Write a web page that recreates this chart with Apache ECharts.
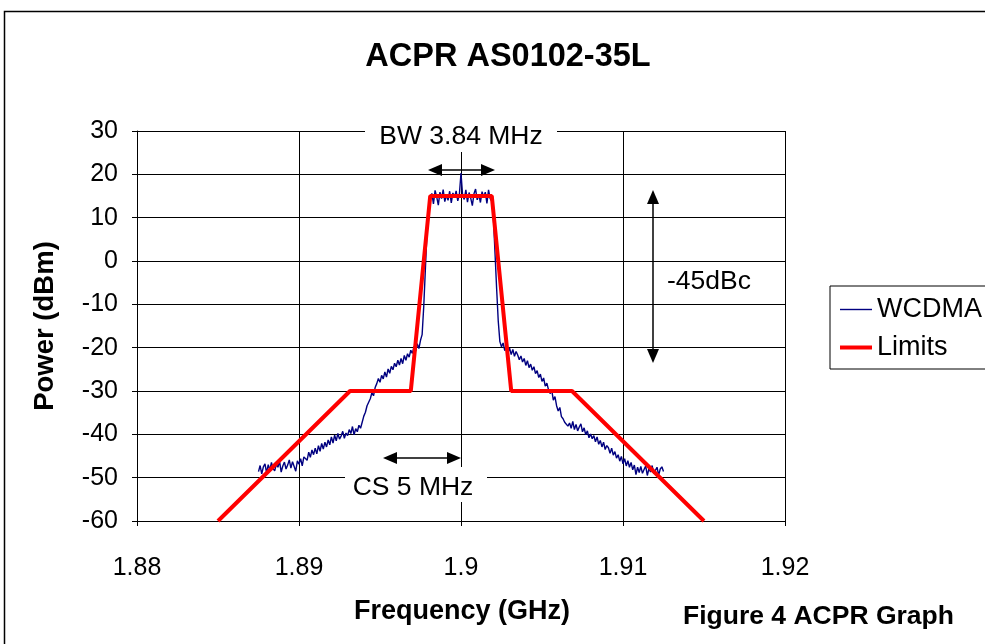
<!DOCTYPE html>
<html><head><meta charset="utf-8">
<script src="https://cdn.jsdelivr.net/npm/echarts@6/dist/echarts.min.js"></script>
<style>html,body{margin:0;padding:0;background:#fff}#c{width:985px;height:644px}</style>
</head><body><div id="c"></div>
<script>
// ---- data ----
const freqGHz = [
1.8875,1.8876,1.8877,1.8878,1.8879,1.8880,1.8881,1.8882,1.8883,1.8884,
1.8885,1.8886,1.8887,1.8888,1.8889,1.8890,1.8891,1.8892,1.8893,1.8894,
1.8895,1.8896,1.8897,1.8898,1.8899,1.8900,1.8901,1.8902,1.8903,1.8904,
1.8905,1.8906,1.8907,1.8908,1.8909,1.8910,1.8911,1.8912,1.8913,1.8914,
1.8915,1.8916,1.8917,1.8918,1.8919,1.8920,1.8921,1.8922,1.8923,1.8924,
1.8925,1.8926,1.8927,1.8928,1.8929,1.8930,1.8931,1.8932,1.8933,1.8934,
1.8935,1.8936,1.8937,1.8938,1.8939,1.8940,1.8941,1.8942,1.8943,1.8944,
1.8945,1.8946,1.8947,1.8948,1.8949,1.8950,1.8951,1.8952,1.8953,1.8954,
1.8955,1.8956,1.8957,1.8958,1.8959,1.8960,1.8961,1.8962,1.8963,1.8964,
1.8965,1.8966,1.8967,1.8968,1.8969,1.8970,1.8971,1.8972,1.8973,1.8974,
1.8975,1.8976,1.8977,1.8978,1.8979,1.8980,1.8981,1.8982,1.8983,1.8984,
1.8985,1.8986,1.8987,1.8988,1.8989,1.8990,1.8991,1.8992,1.8993,1.8994,
1.8995,1.8996,1.8997,1.8998,1.8999,1.9000,1.9001,1.9002,1.9003,1.9004,
1.9005,1.9006,1.9007,1.9008,1.9009,1.9010,1.9011,1.9012,1.9013,1.9014,
1.9015,1.9016,1.9017,1.9018,1.9019,1.9020,1.9021,1.9022,1.9023,1.9024,
1.9025,1.9026,1.9027,1.9028,1.9029,1.9030,1.9031,1.9032,1.9033,1.9034,
1.9035,1.9036,1.9037,1.9038,1.9039,1.9040,1.9041,1.9042,1.9043,1.9044,
1.9045,1.9046,1.9047,1.9048,1.9049,1.9050,1.9051,1.9052,1.9053,1.9054,
1.9055,1.9056,1.9057,1.9058,1.9059,1.9060,1.9061,1.9062,1.9063,1.9064,
1.9065,1.9066,1.9067,1.9068,1.9069,1.9070,1.9071,1.9072,1.9073,1.9074,
1.9075,1.9076,1.9077,1.9078,1.9079,1.9080,1.9081,1.9082,1.9083,1.9084,
1.9085,1.9086,1.9087,1.9088,1.9089,1.9090,1.9091,1.9092,1.9093,1.9094,
1.9095,1.9096,1.9097,1.9098,1.9099,1.9100,1.9101,1.9102,1.9103,1.9104,
1.9105,1.9106,1.9107,1.9108,1.9109,1.9110,1.9111,1.9112,1.9113,1.9114,
1.9115,1.9116,1.9117,1.9118,1.9119,1.9120,1.9121,1.9122,1.9123,1.9124,
1.9125
];
const wcdmaDbm = [
-48.6,-47.2,-49.1,-47.5,-46.8,-48.9,-47.0,-48.2,-46.5,-47.9,
-48.4,-46.9,-47.6,-46.2,-48.7,-47.3,-46.4,-48.0,-47.1,-45.9,
-47.8,-46.3,-47.4,-48.5,-46.1,-46.9,-45.6,-47.3,-45.2,-44.8,
-46.0,-44.1,-45.3,-43.6,-44.7,-43.2,-44.5,-42.6,-43.9,-42.1,
-43.4,-41.8,-42.9,-41.3,-42.4,-40.6,-42.0,-40.2,-41.5,-39.8,
-41.1,-40.4,-39.3,-40.9,-39.7,-40.3,-38.9,-39.8,-38.2,-40.1,
-38.7,-39.4,-37.9,-38.6,-37.2,-35.8,-34.9,-33.4,-32.6,-31.8,
-30.4,-31.1,-29.2,-28.3,-27.1,-28.0,-26.4,-27.2,-25.6,-26.8,
-24.9,-25.9,-24.3,-25.1,-23.6,-24.4,-22.9,-24.0,-22.5,-23.7,
-21.8,-22.9,-21.4,-22.2,-20.6,-21.3,-19.7,-20.8,-19.1,-20.2,
-18.3,-17.0,-10.5,-2.0,6.5,12.2,14.1,15.6,13.2,16.3,
14.8,12.9,15.9,14.4,16.5,13.7,15.2,14.0,16.1,13.4,
15.7,14.6,16.2,13.9,15.4,20.3,15.1,14.2,16.4,13.6,
15.8,14.5,12.8,15.5,16.6,14.1,15.3,13.5,16.0,14.7,
15.9,13.3,16.4,14.4,13.8,10.1,1.8,-6.4,-13.9,-18.6,
-19.8,-18.9,-20.7,-19.4,-21.2,-20.1,-21.6,-20.4,-22.0,-20.9,
-21.7,-22.8,-21.9,-23.3,-22.5,-24.1,-23.0,-24.6,-23.8,-25.2,
-24.4,-26.0,-25.3,-26.9,-26.1,-27.8,-27.0,-28.9,-28.2,-29.7,
-30.6,-29.8,-32.1,-31.3,-33.4,-34.6,-33.8,-35.9,-36.4,-37.2,
-36.8,-38.1,-37.4,-38.6,-37.0,-38.9,-37.7,-39.2,-38.3,-37.6,
-39.4,-38.5,-40.1,-39.2,-40.8,-39.9,-41.0,-40.3,-41.7,-40.6,
-42.3,-41.4,-42.9,-41.8,-43.5,-42.6,-43.1,-44.4,-43.2,-44.8,
-44.0,-45.5,-44.7,-46.2,-45.1,-46.8,-45.6,-47.3,-46.1,-47.6,
-46.5,-48.2,-47.1,-49.3,-47.6,-48.8,-47.4,-49.0,-48.1,-47.3,
-49.5,-47.9,-48.7,-47.2,-49.1,-48.3,-47.6,-49.4,-48.0,-47.5,
-48.6
];
const limitFreq = [1.885, 1.89315, 1.8969, 1.8981, 1.9019, 1.9031, 1.90685, 1.915];
const limitDbm  = [-60, -30, -30, 15, 15, -30, -30, -60];
const seriesNames = ['WCDMA', 'Limits'];
const xMin = 1.88, xMax = 1.92, xStep = 0.01;
const yMin = -60, yMax = 30, yStep = 10;
const titleText = 'ACPR AS0102-35L';
const xName = 'Frequency (GHz)';
const yName = 'Power (dBm)';
const captionText = 'Figure 4 ACPR Graph';
const noteBW = 'BW 3.84 MHz';
const noteCS = 'CS 5 MHz';
const noteDbc = '-45dBc';

// ---- chart ----
const FONT = '"Liberation Sans", Arial, sans-serif';
const chart = echarts.init(document.getElementById('c'), null, {renderer: 'canvas'});

function arrow(x1, y1, x2, y2, head, half) {
  const dx = x2 - x1, dy = y2 - y1, len = Math.sqrt(dx*dx + dy*dy);
  const ux = dx / len, uy = dy / len, px = -uy, py = ux;
  const tri = (tx, ty, dirx, diry) => [
    [tx, ty],
    [tx - dirx*head + px*half, ty - diry*head + py*half],
    [tx - dirx*head - px*half, ty - diry*head - py*half]
  ];
  return [
    {type: 'line', z: 100, silent: true,
     shape: {x1: x1 + ux*head*0.8, y1: y1 + uy*head*0.8, x2: x2 - ux*head*0.8, y2: y2 - uy*head*0.8},
     style: {stroke: '#000', lineWidth: 1.5}},
    {type: 'polygon', z: 100, silent: true, shape: {points: tri(x2, y2, ux, uy)}, style: {fill: '#000'}},
    {type: 'polygon', z: 100, silent: true, shape: {points: tri(x1, y1, -ux, -uy)}, style: {fill: '#000'}}
  ];
}

function txt(text, x, y, size, bold, align, extra) {
  return Object.assign({
    type: 'text', z: 101, silent: true, x: x, y: y,
    style: {text: text, fill: '#000', font: (bold ? 'bold ' : '') + size + 'px ' + FONT,
            align: align || 'center', verticalAlign: 'middle'}
  }, extra || {});
}

const option = {
  animation: false,
  backgroundColor: '#fff',
  grid: {left: 137, right: 200, top: 131, bottom: 123, containLabel: false},
  xAxis: {
    type: 'value', min: xMin, max: xMax, interval: xStep,
    axisLine: {show: true, onZero: false, lineStyle: {color: '#000', width: 1}},
    axisTick: {show: true, length: 5, lineStyle: {color: '#000'}},
    axisLabel: {color: '#000', fontSize: 25, fontFamily: FONT, margin: 35,
                formatter: v => String(parseFloat(v.toFixed(2)))},
    splitLine: {show: true, lineStyle: {color: '#000', width: 1}}
  },
  yAxis: {
    type: 'value', min: yMin, max: yMax, interval: yStep,
    axisLine: {show: true, onZero: false, lineStyle: {color: '#000', width: 1}},
    axisTick: {show: true, length: 5, lineStyle: {color: '#000'}},
    axisLabel: {color: '#000', fontSize: 25, fontFamily: FONT, margin: 19},
    splitLine: {show: true, lineStyle: {color: '#000', width: 1}}
  },
  legend: {
    orient: 'vertical', left: 830, top: 286,
    padding: [10, 40, 8, 10], itemWidth: 32, itemHeight: 14, itemGap: 11,
    borderColor: '#000', borderWidth: 1, backgroundColor: '#fff',
    textStyle: {color: '#000', fontSize: 27, fontFamily: FONT, lineHeight: 27},
    data: [
      {name: seriesNames[0], icon: 'path://M0,0 M32,14 M0,6.3 L32,6.3 L32,7.7 L0,7.7 Z'},
      {name: seriesNames[1], icon: 'path://M0,0 M32,14 M0,5 L32,5 L32,9 L0,9 Z'}
    ]
  },
  series: [
    {name: seriesNames[0], type: 'line', symbol: 'none', showSymbol: false, z: 2,
     color: '#000080', lineStyle: {color: '#000080', width: 1.4},
     data: freqGHz.map((f, i) => [f, wcdmaDbm[i]])},
    {name: seriesNames[1], type: 'line', symbol: 'none', showSymbol: false, z: 3,
     color: '#ff0000', lineStyle: {color: '#ff0000', width: 4},
     data: limitFreq.map((f, i) => [f, limitDbm[i]])}
  ],
  graphic: [
    {type: 'rect', z: 99, silent: true, shape: {x: 4.5, y: 11.5, width: 1100, height: 800},
     style: {fill: 'none', stroke: '#000', lineWidth: 1.5}},
    txt(titleText, 508, 57, 32.5, true),
    txt(yName, 45, 326, 27.5, true, 'center', {rotation: Math.PI / 2}),
    txt(xName, 462, 612, 27, true),
    txt(captionText, 683, 617, 26.5, true, 'left'),
    {type: 'rect', z: 100, silent: true, shape: {x: 365, y: 121, width: 192, height: 31}, style: {fill: '#fff'}},
    txt(noteBW, 461, 137, 26.5, false),
    {type: 'rect', z: 100, silent: true, shape: {x: 345, y: 467, width: 142, height: 35}, style: {fill: '#fff'}},
    txt(noteCS, 413, 488, 26.5, false),
    txt(noteDbc, 667, 282, 26.5, false, 'left')
  ].concat(arrow(428, 170, 495, 170, 14, 6))
   .concat(arrow(653, 190, 653, 363, 14, 6))
   .concat(arrow(383, 458, 461, 458, 14, 6))
};
chart.setOption(option);
</script>
</body></html>
